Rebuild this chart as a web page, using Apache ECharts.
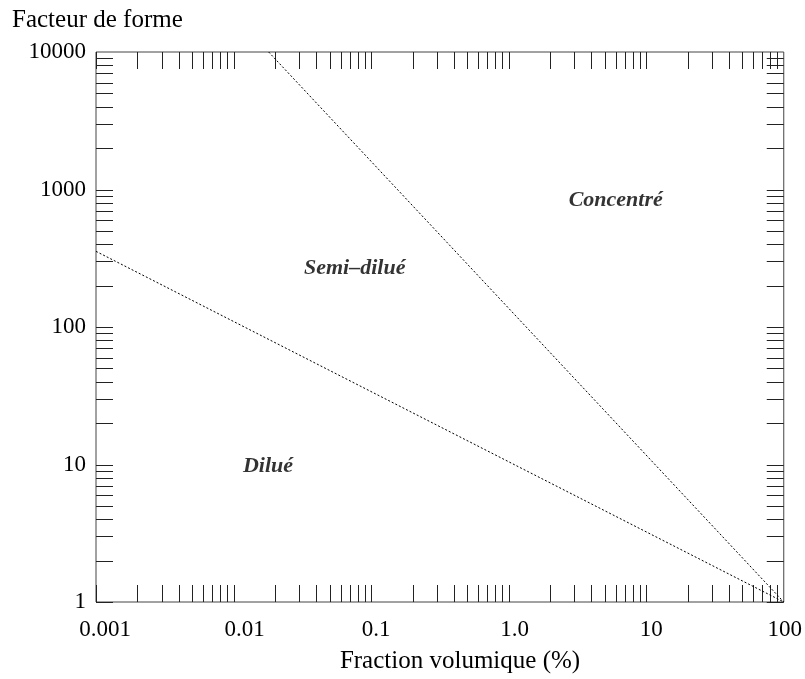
<!DOCTYPE html>
<html>
<head>
<meta charset="utf-8">
<script src="https://cdn.jsdelivr.net/npm/echarts@6/dist/echarts.min.js"></script>
<style>html,body{margin:0;padding:0;background:#fff}#c{width:805px;height:679px}</style>
</head>
<body>
<div id="c"></div>
<script>
// ---- data ----
var xTickLabels = ['0.001', '0.01', '0.1', '1.0', '10', '100'];
var yTickLabels = ['1', '10', '100', '1000', '10000'];
var xRange = [0.001, 100];
var yRange = [1, 10000];
// boundary dilué / semi-dilué
var lineDilute = [[0.001, 355], [100, 1]];
// boundary semi-dilué / concentré
var lineConcentrated = [[0.018, 10000], [100, 1]];
// region labels
var regionNames = ['Semi\u2013dilué', 'Concentré', 'Dilué'];
var regionX = [0.076, 6.0, 0.0178];
var regionY = [268, 840, 9.75];
// tick multipliers per decade
var tickMultipliers = [1, 2, 3, 4, 5, 6, 7, 8, 9];
var xDecades = [-3, -2, -1, 0, 1];
var yDecades = [0, 1, 2, 3];

var xTicks = [];
xDecades.forEach(function (d) { tickMultipliers.forEach(function (m) { xTicks.push([m * Math.pow(10, d)]); }); });
var yTicks = [];
yDecades.forEach(function (d) { tickMultipliers.forEach(function (m) { yTicks.push([xRange[0], m * Math.pow(10, d)]); }); });

var FONT = 'Liberation Serif';
var TICK = 17;
// small horizontal label nudges (style only)
var xLabelPad = [18, 22, 10, 12, 10, 2];
var chart = echarts.init(document.getElementById('c'), null, { renderer: 'canvas' });

var xRich = {};
xLabelPad.forEach(function (p, i) {
  xRich['p' + i] = { fontFamily: FONT, fontSize: 23, color: '#000', padding: [0, 0, 0, p] };
});

var option = {
  backgroundColor: '#fff',
  animation: false,
  grid: { left: 96, right: 21, top: 52, bottom: 77, show: true, borderColor: '#444', borderWidth: 1, backgroundColor: 'transparent' },
  xAxis: {
    type: 'log', logBase: 10, min: xRange[0], max: xRange[1], splitNumber: 5,
    axisLine: { show: false }, axisTick: { show: false }, splitLine: { show: false },
    axisLabel: { color: '#000', fontFamily: FONT, fontSize: 23, margin: 16, rich: xRich,
      formatter: function (v) {
        var i = Math.round(Math.log10(v) - Math.log10(xRange[0]));
        return xTickLabels[i] ? '{p' + i + '|' + xTickLabels[i] + '}' : '';
      } }
  },
  yAxis: {
    type: 'log', logBase: 10, min: yRange[0], max: yRange[1], splitNumber: 4,
    axisLine: { show: false }, axisTick: { show: false }, splitLine: { show: false },
    axisLabel: { color: '#000', fontFamily: FONT, fontSize: 23, margin: 10,
      formatter: function (v) {
        var i = Math.round(Math.log10(v) - Math.log10(yRange[0]));
        return yTickLabels[i] || '';
      } }
  },
  graphic: [
    { type: 'text', left: 12, top: 8, style: { text: 'Facteur de forme', fontFamily: FONT, fontSize: 25, fill: '#000' } },
    { type: 'text', x: 460, y: 661, style: { text: 'Fraction volumique (%)', fontFamily: FONT, fontSize: 25, fill: '#000', align: 'center', verticalAlign: 'middle' } }
  ],
  series: [
    {
      type: 'line', data: lineDilute, symbol: 'none', silent: true,
      lineStyle: { color: '#000', width: 1, type: [2, 2] }
    },
    {
      type: 'line', data: lineConcentrated, symbol: 'none', silent: true,
      lineStyle: { color: '#000', width: 1, type: [2, 2] }
    },
    {
      type: 'custom', data: xTicks, silent: true, clip: false,
      renderItem: function (params, api) {
        var v = api.value(0);
        var b = api.coord([v, yRange[0]]);
        var t = api.coord([v, yRange[1]]);
        var x = Math.round(b[0]) + 0.5;
        return { type: 'group', children: [
          { type: 'line', shape: { x1: x, y1: b[1], x2: x, y2: b[1] - TICK }, style: { stroke: '#222', lineWidth: 1 } },
          { type: 'line', shape: { x1: x, y1: t[1], x2: x, y2: t[1] + TICK }, style: { stroke: '#222', lineWidth: 1 } }
        ] };
      }
    },
    {
      type: 'custom', data: yTicks, silent: true, clip: false,
      renderItem: function (params, api) {
        var v = api.value(1);
        var l = api.coord([xRange[0], v]);
        var r = api.coord([xRange[1], v]);
        var y = Math.round(l[1]) + 0.5;
        return { type: 'group', children: [
          { type: 'line', shape: { x1: l[0], y1: y, x2: l[0] + TICK, y2: y }, style: { stroke: '#222', lineWidth: 1 } },
          { type: 'line', shape: { x1: r[0], y1: y, x2: r[0] - TICK, y2: y }, style: { stroke: '#222', lineWidth: 1 } }
        ] };
      }
    },
    {
      type: 'scatter', symbolSize: 0, silent: true,
      data: regionNames.map(function (n, i) { return { name: n, value: [regionX[i], regionY[i]] }; }),
      label: { show: true, position: 'inside', formatter: '{b}', color: '#000', fontFamily: FONT, fontSize: 22, fontWeight: 'bold', fontStyle: 'italic' }
    }
  ]
};
chart.setOption(option);
</script>
</body>
</html>
